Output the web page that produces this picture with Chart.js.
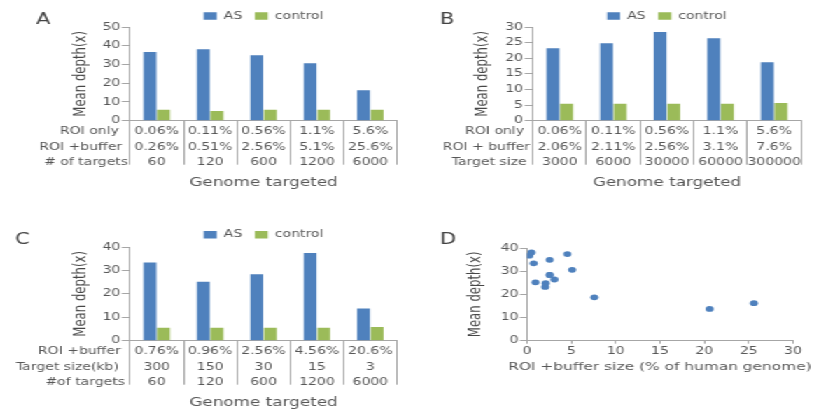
<!DOCTYPE html>
<html>
<head>
<meta charset="utf-8">
<script src="https://cdn.jsdelivr.net/npm/chart.js@4.4.1/dist/chart.umd.min.js"></script>
<style>
  html, body { margin: 0; padding: 0; background: #fff; overflow: hidden; }
  /* the whole figure is laid out narrow and widened 1.4x horizontally */
  #sheet { position: absolute; left: 0; top: 0; width: 582px; height: 412px;
           transform: scaleX(1.4); transform-origin: 0 0; }
  .panel { position: absolute; }
</style>
</head>
<body>
<div id="sheet">
  <div class="panel" style="left:0;top:0;width:290px;height:200px"><canvas id="cA"></canvas></div>
  <div class="panel" style="left:290px;top:0;width:291px;height:200px"><canvas id="cB"></canvas></div>
  <div class="panel" style="left:0;top:220px;width:290px;height:192px"><canvas id="cC"></canvas></div>
  <div class="panel" style="left:290px;top:220px;width:291px;height:192px"><canvas id="cD"></canvas></div>
</div>
<script>
// ---------- data ----------
const seriesNames = ['AS', 'control'];

// Panel A: fixed number of targets, growing genome fraction
const roiOnlyA   = ['0.06%', '0.11%', '0.56%', '1.1%', '5.6%'];
const roiBufferA = ['0.26%', '0.51%', '2.56%', '5.1%', '25.6%'];
const targetsA   = ['60', '120', '600', '1200', '6000'];
const asA        = [36.7, 38.1, 34.9, 30.6, 16.2];
const controlA   = [5.8, 5.2, 5.8, 5.8, 5.8];

// Panel B: growing target size
const roiOnlyB    = ['0.06%', '0.11%', '0.56%', '1.1%', '5.6%'];
const roiBufferB  = ['2.06%', '2.11%', '2.56%', '3.1%', '7.6%'];
const targetSizeB = ['3000', '6000', '30000', '60000', '300000'];
const asB         = [23.2, 24.8, 28.4, 26.4, 18.7];
const controlB    = [5.4, 5.4, 5.4, 5.4, 5.7];

// Panel C: shrinking target size, more targets
const roiBufferC  = ['0.76%', '0.96%', '2.56%', '4.56%', '20.6%'];
const targetSizeC = ['300', '150', '30', '15', '3'];
const targetsC    = ['60', '120', '600', '1200', '6000'];
const asC         = [33.4, 25.2, 28.4, 37.4, 13.7];
const controlC    = [5.5, 5.5, 5.5, 5.5, 5.9];

// axis ranges
const yMaxA = 50, yStepA = 10;
const yMaxB = 30, yStepB = 5;
const yMaxC = 40, yStepC = 10;
const xMaxD = 30, xStepD = 5;
const yMaxD = 40, yStepD = 10;

// ---------- styling ----------
const FONT = "'DejaVu Sans', Verdana, sans-serif";
const NARROW = "'Liberation Sans Narrow', 'Arial Narrow', 'DejaVu Sans Condensed', sans-serif";
const TXT = '#575757';
const TITLE = '#474747';
const LETTER = '#444444';
const AXIS = '#a6a6a6';
const BLUE = '#4f81bd';
const GREEN = '#9bbb59';
const TABLE_LINE = 15.5;

Chart.defaults.font.family = FONT;
Chart.defaults.color = TXT;

// shortens the legend box so the plot can start right under it
function trimLegend(amount) {
  return {
    id: 'trimLegend',
    beforeLayout(chart) {
      const lg = chart.legend;
      if (!lg || lg._trimmed) return;
      const fit = lg.fit;
      lg.fit = function () { fit.call(this); this.height = Math.max(0, this.height - amount); };
      lg._trimmed = true;
    }
  };
}

// panel letter, table row headers and free-standing axis caption
function decor(cfg) {
  return {
    id: 'decor',
    afterDraw(chart) {
      const { ctx, chartArea } = chart;
      ctx.save();
      if (cfg.letter) {
        ctx.font = '15px ' + FONT;
        ctx.fillStyle = LETTER;
        ctx.textAlign = 'left';
        ctx.textBaseline = 'alphabetic';
        ctx.fillText(cfg.letter, cfg.letterX, 24);
      }
      if (cfg.rows) {
        const s = chart.scales.x;
        const y0 = s.top + s.options.grid.tickLength + s.options.ticks.padding + TABLE_LINE / 2;
        ctx.font = '10px ' + FONT;
        ctx.fillStyle = TXT;
        ctx.textAlign = 'right';
        ctx.textBaseline = 'middle';
        cfg.rows.forEach((t, i) =>
          ctx.fillText(t, chartArea.left - cfg.rowGap[i], y0 + i * TABLE_LINE));
      }
      if (cfg.xTitle) {
        ctx.font = '11px ' + FONT;
        ctx.fillStyle = TXT;
        ctx.textAlign = 'center';
        ctx.textBaseline = 'middle';
        ctx.fillText(cfg.xTitle, (chartArea.left + chartArea.right) / 2, cfg.xTitleY);
      }
      ctx.restore();
    }
  };
}

function barPanel(id, o) {
  const labels = o.columns[0].map((_, i) => o.columns.map(col => col[i]));
  return new Chart(document.getElementById(id), {
    type: 'bar',
    data: {
      labels,
      datasets: [
        { label: seriesNames[0], data: o.as, backgroundColor: BLUE },
        { label: seriesNames[1], data: o.control, backgroundColor: GREEN }
      ]
    },
    options: {
      responsive: true,
      maintainAspectRatio: false,
      animation: false,
      events: [],
      categoryPercentage: 0.51,
      barPercentage: 0.94,
      layout: { padding: { left: 40, right: o.padRight, top: o.padTop, bottom: 0 } },
      plugins: {
        tooltip: { enabled: false },
        legend: {
          position: 'top',
          fullSize: false,
          labels: { boxWidth: 9.3, boxHeight: 7.5, padding: 9, color: TXT, font: { size: 10 } }
        }
      },
      scales: {
        x: {
          type: 'category',
          offset: true,
          grid: { offset: true, drawOnChartArea: false, drawTicks: true, tickLength: 44, color: AXIS },
          border: { color: AXIS },
          ticks: {
            padding: -40.75, autoSkip: false, maxRotation: 0, color: TXT,
            font: { size: 10, lineHeight: TABLE_LINE / 10 }
          },
          title: {
            display: true, text: 'Genome targeted', color: TXT,
            font: { size: 12 }, padding: { top: 0, bottom: o.titlePad }
          },
          afterFit: s => { s.height = o.xHeight; }
        },
        y: {
          min: 0, max: o.yMax,
          ticks: { stepSize: o.yStep, padding: 1, color: TXT, font: { size: 10 } },
          grid: { drawOnChartArea: false, drawTicks: true, tickLength: 6, color: AXIS },
          border: { color: AXIS },
          title: {
            display: true, text: 'Mean depth(x)', color: TITLE,
            font: { family: NARROW, size: 13 }, padding: { top: o.yTitlePad, bottom: 0 }
          },
          afterFit: s => { s.width = o.yWidth; }
        }
      }
    },
    plugins: [trimLegend(o.trim),
              decor({ letter: o.letter, letterX: o.letterX, rows: o.rows, rowGap: o.rowGap })]
  });
}

barPanel('cA', {
  columns: [roiOnlyA, roiBufferA, targetsA],
  rows: ['ROI only', 'ROI +buffer', '# of targets'], rowGap: [8, 5.7, 1.4],
  as: asA, control: controlA, yMax: yMaxA, yStep: yStepA,
  letter: 'A', letterX: 25.7,
  padRight: 6.43, padTop: 2, trim: 4, yWidth: 52.86, yTitlePad: 9.34,
  xHeight: 79.3, titlePad: 9.8
});

barPanel('cB', {
  columns: [roiOnlyB, roiBufferB, targetSizeB],
  rows: ['ROI only', 'ROI + buffer', 'Target size'], rowGap: [6.4, 2.1, 4.5],
  as: asB, control: controlB, yMax: yMaxB, yStep: yStepB,
  letter: 'B', letterX: 24.3,
  padRight: 8.86, padTop: 2, trim: 4, yWidth: 50.71, yTitlePad: 7.2,
  xHeight: 79.3, titlePad: 9.8
});

barPanel('cC', {
  columns: [roiBufferC, targetSizeC, targetsC],
  rows: ['ROI +buffer', 'Target size(kb)', '#of targets'], rowGap: [6.6, 8, 3.6],
  as: asC, control: controlC, yMax: yMaxC, yStep: yStepC,
  letter: 'C', letterX: 10.7,
  padRight: 6.43, padTop: 0.8, trim: 2.8, yWidth: 52.86, yTitlePad: 9.34,
  xHeight: 71.3, titlePad: 2.1
});

// Panel D: every AS bar plotted against its ROI + buffer share
const scatterPoints = [
  [roiBufferA, asA], [roiBufferB, asB], [roiBufferC, asC]
].flatMap(([xs, ys]) => xs.map((x, i) => ({ x: parseFloat(x), y: ys[i] })));

new Chart(document.getElementById('cD'), {
  type: 'scatter',
  data: {
    datasets: [{
      label: seriesNames[0], data: scatterPoints,
      backgroundColor: BLUE, borderColor: BLUE, pointRadius: 2.9, borderWidth: 0
    }]
  },
  options: {
    responsive: true,
    maintainAspectRatio: false,
    animation: false,
    events: [],
    layout: { padding: { left: 36, right: 14.57, top: 28, bottom: 0 } },
    plugins: { legend: { display: false }, tooltip: { enabled: false } },
    scales: {
      x: {
        type: 'linear', min: 0, max: xMaxD,
        ticks: { stepSize: xStepD, padding: 2, color: TXT, font: { size: 10 } },
        grid: { drawOnChartArea: false, drawTicks: true, tickLength: 3, color: AXIS },
        border: { color: AXIS },
        afterFit: s => { s.height = 71.3; }
      },
      y: {
        min: 0, max: yMaxD,
        ticks: { stepSize: yStepD, padding: 1, color: TXT, font: { size: 10 } },
        grid: { drawOnChartArea: false, drawTicks: true, tickLength: 5, color: AXIS },
        border: { color: AXIS },
        title: {
          display: true, text: 'Mean depth(x)', color: TITLE,
          font: { family: NARROW, size: 13 }, padding: { top: 5.8, bottom: 0 }
        },
        afterFit: s => { s.width = 50.43; }
      }
    }
  },
  plugins: [decor({ letter: 'D', letterX: 24.3, xTitle: 'ROI +buffer size (% of human genome)', xTitleY: 146.7 })]
});
</script>
</body>
</html>
